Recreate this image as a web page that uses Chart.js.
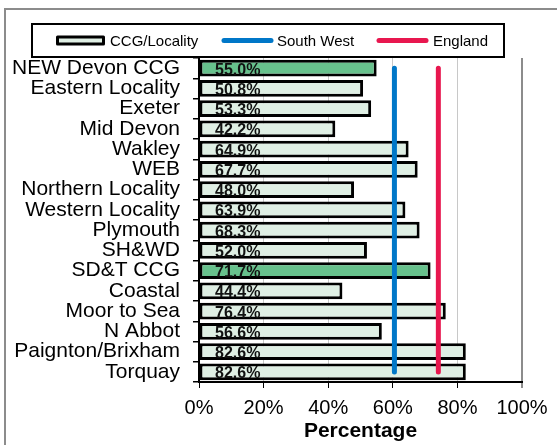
<!DOCTYPE html>
<html>
<head>
<meta charset="utf-8">
<script src="https://cdn.jsdelivr.net/npm/chart.js@4/dist/chart.umd.min.js"></script>
<style>
  html, body { margin: 0; padding: 0; background: #fff; }
</style>
</head>
<body>
<canvas id="chart" width="557" height="445"></canvas>
<script>
const localities = ["NEW Devon CCG", "Eastern Locality", "Exeter", "Mid Devon", "Wakley", "WEB",
  "Northern Locality", "Western Locality", "Plymouth", "SH&WD", "SD&T CCG", "Coastal",
  "Moor to Sea", "N Abbot", "Paignton/Brixham", "Torquay"];
const percentages = [55.0, 50.8, 53.3, 42.2, 64.9, 67.7, 48.0, 63.9, 68.3, 52.0, 71.7, 44.4, 76.4, 56.6, 82.6, 82.6];
const ccgRows = ["NEW Devon CCG", "SD&T CCG"];
const southWest = 60.5;
const england = 74.1;
const xTicks = [0, 20, 40, 60, 80, 100];

const FONT = '"Liberation Sans", Arial, sans-serif';
const DARK_GREEN = '#67c18c';
const LIGHT_GREEN = '#dfefe4';
const BLUE = '#0077c8';
const RED = '#e8174f';

Chart.defaults.font.family = FONT;
Chart.defaults.color = '#000';

// bold % labels inside the bars, near the left end
const valueLabels = {
  id: 'valueLabels',
  afterDatasetsDraw(chart) {
    const meta = chart.getDatasetMeta(0);
    const ctx = chart.ctx;
    ctx.save();
    ctx.font = 'bold 16px ' + FONT;
    ctx.fillStyle = '#111';
    ctx.textAlign = 'left';
    ctx.textBaseline = 'alphabetic';
    meta.data.forEach((bar, i) => {
      ctx.fillText(percentages[i].toFixed(1) + '%', chart.chartArea.left + 16, bar.y + bar.height / 2 - 2);
    });
    ctx.restore();
  }
};

// outer frame and the boxed legend
const frameAndLegend = {
  id: 'frameAndLegend',
  afterDraw(chart) {
    const ctx = chart.ctx;
    const ds = chart.data.datasets;
    ctx.save();
    ctx.strokeStyle = '#8c8c8c';
    ctx.lineWidth = 2;
    ctx.strokeRect(5, 9, 600, 500);

    ctx.fillStyle = '#fff';
    ctx.fillRect(31, 23, 474, 34);
    ctx.strokeStyle = '#000';
    ctx.lineWidth = 2;
    ctx.strokeRect(32, 24, 472, 33);

    ctx.font = '15px ' + FONT;
    ctx.textBaseline = 'middle';
    ctx.textAlign = 'left';
    const cy = 40.5;

    // bar swatch
    ctx.fillStyle = LIGHT_GREEN;
    ctx.fillRect(57, 37, 47, 7);
    ctx.strokeStyle = '#000';
    ctx.lineWidth = 3;
    ctx.lineJoin = 'round';
    ctx.strokeRect(57.5, 37, 46, 7);
    ctx.fillStyle = '#000';
    ctx.fillText(ds[0].label, 110, cy + 1);

    // line swatches
    ctx.lineCap = 'round';
    ctx.lineWidth = 5;
    ctx.strokeStyle = BLUE;
    ctx.beginPath(); ctx.moveTo(224, cy); ctx.lineTo(271, cy); ctx.stroke();
    ctx.fillText(ds[1].label, 277, cy + 1);
    ctx.strokeStyle = RED;
    ctx.beginPath(); ctx.moveTo(379, cy); ctx.lineTo(426, cy); ctx.stroke();
    ctx.fillText(ds[2].label, 433, cy + 1);
    ctx.restore();
  }
};

const first = localities[0];
const last = localities[localities.length - 1];

new Chart(document.getElementById('chart'), {
  type: 'bar',
  data: {
    labels: localities,
    datasets: [{
      label: 'CCG/Locality',
      data: percentages,
      backgroundColor: localities.map(l => ccgRows.includes(l) ? DARK_GREEN : LIGHT_GREEN),
      borderColor: '#000',
      borderWidth: 3,
      borderSkipped: false,
      barPercentage: 0.83,
      categoryPercentage: 1.0,
      order: 2
    }, {
      type: 'line',
      label: 'South West',
      data: [{x: southWest, y: first}, {x: southWest, y: last}],
      borderColor: BLUE,
      borderWidth: 5,
      borderCapStyle: 'round',
      pointRadius: 0,
      order: 1
    }, {
      type: 'line',
      label: 'England',
      data: [{x: england, y: first}, {x: england, y: last}],
      borderColor: RED,
      borderWidth: 5,
      borderCapStyle: 'round',
      pointRadius: 0,
      order: 0
    }]
  },
  options: {
    indexAxis: 'y',
    responsive: false,
    animation: false,
    layout: { padding: { top: 58, right: 35, left: 0, bottom: 0 } },
    plugins: {
      legend: { display: false },
      tooltip: { enabled: false }
    },
    scales: {
      y: {
        type: 'category',
        afterFit: s => { s.width = 199; },
        ticks: { autoSkip: false, padding: 13, font: { size: 21 }, color: '#000' },
        grid: { drawOnChartArea: false, offset: true, tickLength: 6, color: '#000', lineWidth: 1.5 },
        border: { color: '#000', width: 2 }
      },
      x: {
        min: 0,
        max: 100,
        afterFit: s => { s.height = 63; },
        afterBuildTicks: s => { s.ticks = xTicks.map(v => ({ value: v })); },
        ticks: { callback: v => v + '%', padding: 8, font: { size: 20 }, color: '#000', maxRotation: 0 },
        grid: {
          color: c => c.tick.value === 100 ? '#8c8c8c' : (c.tick.value === 0 ? '#000' : '#c8c8c8'),
          lineWidth: c => c.tick.value === 100 ? 2 : 1,
          tickColor: c => c.tick.value === 100 ? '#8c8c8c' : '#000',
          tickLength: 6
        },
        border: { color: '#000', width: 2 },
        title: { display: true, text: 'Percentage', font: { size: 21, weight: 'bold' }, color: '#000', padding: { top: 0, bottom: 1 } }
      }
    }
  },
  plugins: [valueLabels, frameAndLegend]
});
</script>
</body>
</html>
